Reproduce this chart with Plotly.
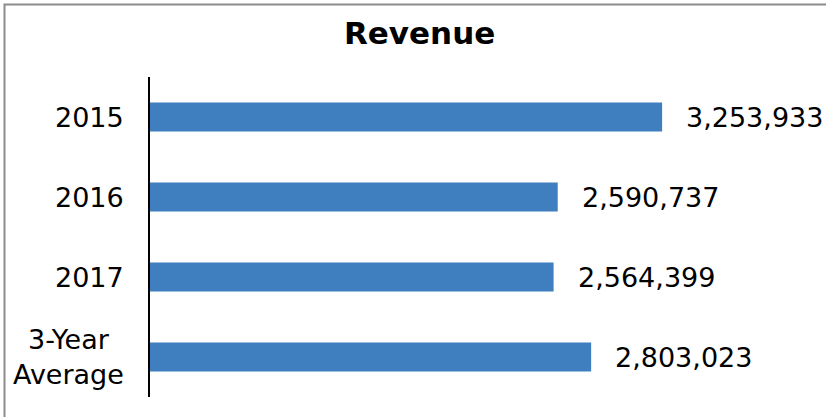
import plotly.graph_objects as go

categories = ["2015", "2016", "2017", "3-Year<br>Average"]
revenue = [3253933, 2590737, 2564399, 2803023]
title_text = "Revenue"

FONT = "DejaVu Sans"
W, H = 826, 417
ML, MR, MT, MB = 150, 15, 77, 20
PW, PH = W - ML - MR, H - MT - MB

fig = go.Figure()
fig.add_trace(go.Bar(
    y=categories, x=revenue, orientation="h",
    width=0.36,
    marker=dict(color="#3f7fbf", line=dict(width=0)),
    hoverinfo="skip",
))

for i, (c, v) in enumerate(zip(categories, revenue)):
    fig.add_annotation(x=v, y=i, xref="x", yref="y", text=f"{v:,}",
                       showarrow=False, xanchor="left", xshift=22,
                       font=dict(family=FONT, size=27, color="#000000"))
    fig.add_annotation(x=0, y=i, xref="paper", yref="y", text=c,
                       showarrow=False, xanchor="right", xshift=-24, align="center",
                       font=dict(family=FONT, size=27, color="#000000"))

# chart border (extends past right/bottom edges as in reference)
fig.add_shape(type="rect", xref="paper", yref="paper",
              x0=(4.5 - ML) / PW, x1=(W + 10 - ML) / PW,
              y0=-(MB + 10) / PH, y1=1 + (MT - 4.5) / PH,
              line=dict(color="#8c8c8c", width=2), layer="below")

fig.update_layout(
    width=W, height=H,
    margin=dict(l=ML, r=MR, t=MT, b=MB),
    paper_bgcolor="white", plot_bgcolor="white",
    showlegend=False,
    title=dict(text=f"<b>{title_text}</b>", x=0.508, xanchor="center",
               y=1 - 33 / H, yanchor="middle",
               font=dict(family=FONT, size=31, color="#000000")),
    xaxis=dict(visible=False, range=[0, 4.2e6], fixedrange=True),
    yaxis=dict(type="category", range=[len(categories) - 0.5, -0.5],
               showticklabels=False, ticks="",
               showline=True, linecolor="#000000", linewidth=2,
               showgrid=False, zeroline=False, fixedrange=True),
    font=dict(family=FONT),
)

fig.write_html("out.html", post_script="document.body.style.margin='0';",
               config={"displayModeBar": False})
